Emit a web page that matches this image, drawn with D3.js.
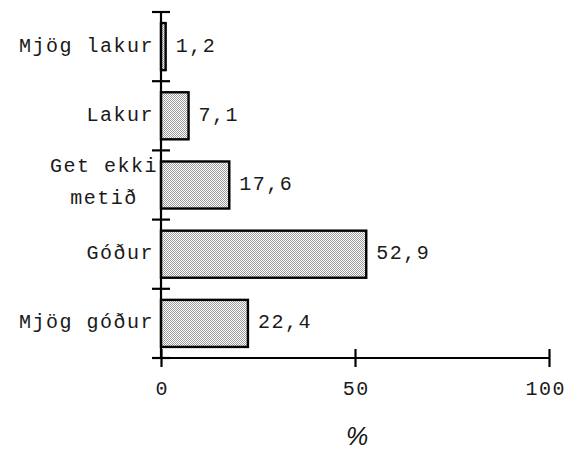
<!DOCTYPE html>
<html><head><meta charset="utf-8">
<script src="https://cdn.jsdelivr.net/npm/d3@7"></script>
<style>
html,body{margin:0;padding:0;background:#fff;}
svg{display:block;}
.mono{font-family:"Liberation Mono","DejaVu Sans Mono",monospace;font-size:20px;letter-spacing:1.5px;fill:#1a1a1a;}
</style></head>
<body>
<svg id="chart" width="565" height="456"></svg>
<script>
const categories = [["Mjög lakur"], ["Lakur"], ["Get ekki", "metið"], ["Góður"], ["Mjög góður"]];
const values = [1.2, 7.1, 17.6, 52.9, 22.4];
const valueLabels = ["1,2", "7,1", "17,6", "52,9", "22,4"];
const xTicks = [0, 50, 100];
const xTitle = "%";

const svg = d3.select("#chart");
const x0 = 161, x1 = 549, yTop = 12, yBot = 358;
const keys = categories.map(c => c.join(" "));
const x = d3.scaleLinear().domain([0, 100]).range([x0, x1]);
const y = d3.scaleBand().domain(keys).range([yTop, yBot]).paddingInner(0.32).paddingOuter(0.16);

// pattern
const defs = svg.append("defs");
const pat = defs.append("pattern").attr("id", "stip").attr("width", 2).attr("height", 2).attr("patternUnits", "userSpaceOnUse");
pat.append("rect").attr("width", 2).attr("height", 2).attr("fill", "#fff");
pat.append("rect").attr("x", 0).attr("y", 0).attr("width", 1).attr("height", 1).attr("fill", "#9a9a9a");
pat.append("rect").attr("x", 1).attr("y", 1).attr("width", 1).attr("height", 1).attr("fill", "#9a9a9a");

// bars
svg.selectAll("rect.bar").data(values).enter().append("rect")
  .attr("class", "bar")
  .attr("x", x(0))
  .attr("y", (d, i) => y(keys[i]))
  .attr("width", d => x(d) - x(0))
  .attr("height", y.bandwidth())
  .attr("fill", "url(#stip)")
  .attr("stroke", "#000").attr("stroke-width", 2.4);

// y axis line + ticks at band boundaries
const boundaries = keys.map(k => y(k) - y.step() * y.paddingInner() / 2).concat([yBot]);
svg.append("line").attr("x1", x0).attr("x2", x0).attr("y1", yTop).attr("y2", yBot + 1).attr("stroke", "#000").attr("stroke-width", 2.2);
svg.selectAll("line.yt").data(boundaries).enter().append("line")
  .attr("x1", x0 - 9).attr("x2", x0 + 9).attr("y1", d => d).attr("y2", d => d)
  .attr("stroke", "#000").attr("stroke-width", 2.2);

// x axis
const xAxis = svg.append("g").attr("transform", `translate(0,${yBot})`)
  .call(d3.axisBottom(x).tickValues(xTicks).tickSize(0).tickFormat(d3.format("d")).tickPadding(0));
xAxis.attr("font-family", null).attr("font-size", null);
xAxis.select(".domain").attr("stroke", "#000").attr("stroke-width", 2.2).attr("d", `M${x0},0H${x1}`);
xAxis.selectAll(".tick line").attr("y1", -9).attr("y2", 9).attr("stroke", "#000").attr("stroke-width", 2.2);
xAxis.selectAll(".tick text").attr("class", "mono").attr("y", 37).attr("dy", 0)
  .attr("font-family", null).attr("font-size", null).attr("fill", null)
  .attr("dx", function (d) {
    const w = this.getComputedTextLength();
    const right = x(d) + w / 2 - 0.75;
    return right > 564 ? 564 - right + 0.75 : 0.75;
  });

// category labels
const labAnchor = 154;
keys.forEach((k, i) => {
  const lines = categories[i];
  const cy = y(k) + y.bandwidth() / 2;
  if (lines.length === 1) {
    svg.append("text").attr("class", "mono").attr("text-anchor", "end")
      .attr("x", labAnchor).attr("y", cy + 5).text(lines[0]);
  } else {
    const g = svg.append("text").attr("class", "mono").attr("text-anchor", "middle");
    const t0 = g.append("tspan").attr("y", cy - 13).text(lines[0]);
    const t1 = g.append("tspan").attr("y", cy + 19).text(lines[1]);
    const w = d3.max([t0, t1], t => t.node().getComputedTextLength());
    const cx = labAnchor + 4 - w / 2;
    t0.attr("x", cx); t1.attr("x", cx);
  }
});

// value labels
svg.selectAll("text.val").data(values).enter().append("text")
  .attr("class", "mono val")
  .attr("x", d => x(d) + 10)
  .attr("y", (d, i) => y(keys[i]) + y.bandwidth() / 2 + 5)
  .text((d, i) => valueLabels[i]);

// x title
svg.append("text").attr("x", x(50) + 2).attr("y", 445).attr("text-anchor", "middle")
  .attr("font-family", "Liberation Sans, Arial, sans-serif").attr("font-style", "italic")
  .attr("font-size", 25).attr("fill", "#111").text(xTitle);
</script>
</body></html>
